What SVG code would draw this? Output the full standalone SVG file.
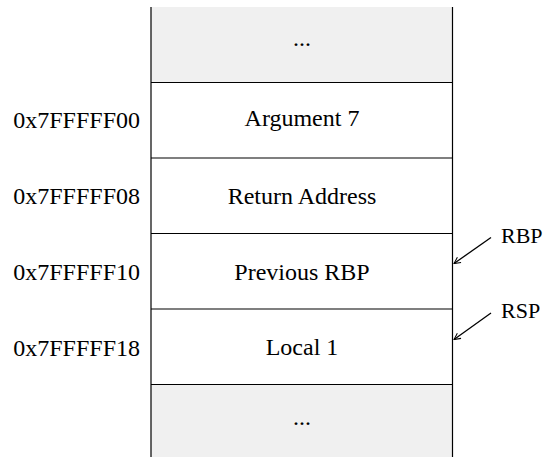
<svg xmlns="http://www.w3.org/2000/svg" width="550" height="457" viewBox="0 0 550 457">
<defs>
<style>
text{font-family:"Liberation Serif","Times New Roman",serif;fill:#000}
.cell{font-size:24px;text-anchor:middle}
.addr{font-size:24px;text-anchor:end}
.reg{font-size:22px}
.box{stroke:#000;stroke-width:1.2}
.gray{fill:#f0f0f0}
.white{fill:#fff}
.conn{stroke:#000;stroke-width:1.3;fill:none;marker-end:url(#arr)}
</style>
<marker id="arr" viewBox="0 0 10 10" refX="9" refY="5" markerWidth="8" markerHeight="8" markerUnits="userSpaceOnUse" orient="auto">
<path d="M1,1 L9,5 L1,9" fill="none" stroke="#000" stroke-width="1.3"/>
</marker>
</defs>
<rect width="550" height="457" fill="#fff"/>
<g id="top-ellipsis">
<rect class="gray" x="151" y="7" width="302" height="75.5"/>
<text class="cell" x="302" y="45.5">...</text>
</g>
<g id="argument7">
<rect class="white" x="151" y="82.5" width="302" height="75.5"/>
<text class="cell" x="302" y="126">Argument 7</text>
<text class="addr" x="140" y="128.3">0x7FFFFF00</text>
</g>
<g id="return-address">
<rect class="white" x="151" y="158" width="302" height="75.5"/>
<text class="cell" x="302" y="204">Return Address</text>
<text class="addr" x="140" y="204">0x7FFFFF08</text>
</g>
<g id="previous-rbp">
<rect class="white" x="151" y="233.5" width="302" height="75.5"/>
<text class="cell" x="302" y="279.5">Previous RBP</text>
<text class="addr" x="140" y="280">0x7FFFFF10</text>
</g>
<g id="local1">
<rect class="white" x="151" y="309" width="302" height="75.5"/>
<text class="cell" x="302" y="355">Local 1</text>
<text class="addr" x="140" y="356">0x7FFFFF18</text>
</g>
<g id="bottom-ellipsis">
<rect class="gray" x="151" y="384.5" width="302" height="80"/>
<text class="cell" x="302" y="425">...</text>
</g>
<g id="grid" class="box">
<line x1="151" y1="7" x2="151" y2="457"/>
<line x1="452.5" y1="7" x2="452.5" y2="457"/>
<line x1="151" y1="82.5" x2="452.5" y2="82.5"/>
<line x1="151" y1="158" x2="452.5" y2="158"/>
<line x1="151" y1="233.5" x2="452.5" y2="233.5"/>
<line x1="151" y1="309" x2="452.5" y2="309"/>
<line x1="151" y1="384.5" x2="452.5" y2="384.5"/>
</g>
<g id="rbp">
<text class="reg" x="501" y="243">RBP</text>
</g>
<g id="rsp">
<text class="reg" x="501" y="318">RSP</text>
</g>
<g id="connectors">
<line class="conn" x1="491" y1="237.5" x2="454" y2="263.5"/>
<line class="conn" x1="491" y1="313" x2="454" y2="339.5"/>
</g>
</svg>
